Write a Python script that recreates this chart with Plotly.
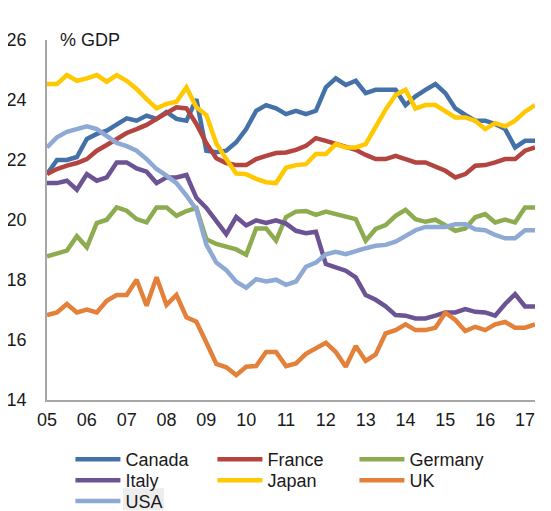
import plotly.graph_objects as go

# Quarterly data 2005Q1 .. 2017Q2 (% of GDP)
quarters = list(range(50))
tick_vals = list(range(0, 49, 4))
tick_text = ["05", "06", "07", "08", "09", "10", "11", "12", "13", "14", "15", "16", "17"]
y_ticks = [14, 16, 18, 20, 22, 24, 26]

canada = [21.53, 22.0, 22.0, 22.1, 22.7, 22.87, 22.98, 23.2, 23.39, 23.31,
          23.48, 23.37, 23.6, 23.37, 23.31, 24.03, 22.31, 22.26, 22.31, 22.59,
          23.03, 23.64, 23.83, 23.72, 23.53, 23.64, 23.53, 23.64, 24.42, 24.72,
          24.5, 24.64, 24.23, 24.34, 24.34, 24.34, 23.83, 24.12, 24.34, 24.53,
          24.23, 23.72, 23.5, 23.31, 23.31, 23.2, 23.03, 22.42, 22.64, 22.64]
france = [21.53, 21.7, 21.81, 21.9, 22.03, 22.31, 22.5, 22.68, 22.9, 23.03,
          23.17, 23.37, 23.56, 23.76, 23.72, 23.2, 22.56, 22.06, 21.9, 21.83,
          21.83, 22.03, 22.14, 22.23, 22.25, 22.34, 22.47, 22.73, 22.64, 22.53,
          22.42, 22.34, 22.17, 22.03, 22.03, 22.14, 22.03, 21.92, 21.92, 21.76,
          21.64, 21.42, 21.53, 21.81, 21.83, 21.92, 22.03, 22.03, 22.31, 22.42]
germany = [18.79, 18.87, 18.98, 19.46, 19.09, 19.9, 20.01, 20.42, 20.31, 20.03,
           19.92, 20.42, 20.42, 20.14, 20.3, 20.4, 19.36, 19.2, 19.1, 19.02,
           18.84, 19.72, 19.72, 19.31, 20.1, 20.28, 20.3, 20.17, 20.28, 20.2,
           20.12, 20.03, 19.31, 19.7, 19.83, 20.14, 20.34, 20.03, 19.94, 20.01,
           19.83, 19.64, 19.72, 20.09, 20.2, 19.92, 20.01, 19.92, 20.42, 20.42]
italy = [21.23, 21.23, 21.31, 21.01, 21.53, 21.31, 21.42, 21.92, 21.92, 21.72,
         21.61, 21.23, 21.42, 21.42, 21.5, 20.74, 20.4, 19.98, 19.53, 20.1,
         19.82, 19.99, 19.9, 19.99, 19.88, 19.64, 19.56, 19.61, 18.53, 18.42,
         18.31, 18.09, 17.5, 17.34, 17.12, 16.83, 16.81, 16.72, 16.72, 16.81,
         16.92, 16.92, 17.03, 16.94, 16.92, 16.81, 17.2, 17.53, 17.12, 17.12]
japan = [24.53, 24.53, 24.83, 24.64, 24.72, 24.83, 24.61, 24.83, 24.64, 24.37,
         24.03, 23.72, 23.87, 23.94, 24.42, 23.76, 23.5, 22.55, 22.03, 21.55,
         21.53, 21.37, 21.26, 21.23, 21.74, 21.83, 21.86, 22.2, 22.2, 22.53,
         22.42, 22.42, 22.53, 23.14, 23.68, 24.17, 24.34, 23.72, 23.83, 23.83,
         23.64, 23.42, 23.42, 23.31, 23.03, 23.23, 23.12, 23.31, 23.61, 23.83]
uk = [16.83, 16.92, 17.2, 16.92, 17.01, 16.92, 17.31, 17.5, 17.5, 18.01,
      17.14, 18.09, 17.17, 17.5, 16.76, 16.61, 15.92, 15.2, 15.09, 14.83,
      15.11, 15.13, 15.6, 15.6, 15.13, 15.22, 15.54, 15.74, 15.91, 15.6,
      15.11, 15.8, 15.3, 15.52, 16.22, 16.33, 16.52, 16.33, 16.33, 16.41,
      16.91, 16.67, 16.3, 16.44, 16.33, 16.52, 16.6, 16.41, 16.41, 16.52]
usa = [22.42, 22.76, 22.94, 23.03, 23.12, 23.03, 22.79, 22.57, 22.46, 22.31,
       22.03, 21.7, 21.48, 21.23, 20.81, 20.35, 19.18, 18.58, 18.33, 17.94,
       17.74, 18.03, 17.95, 18.01, 17.84, 17.95, 18.44, 18.58, 18.86, 18.94,
       18.86, 18.97, 19.06, 19.14, 19.17, 19.28, 19.47, 19.66, 19.77, 19.77,
       19.77, 19.86, 19.86, 19.69, 19.66, 19.5, 19.39, 19.39, 19.66, 19.66]

series = [
    ("Canada", canada, "#4472A8", "legend"),
    ("France", france, "#B4443F", "legend"),
    ("Germany", germany, "#8DAB4F", "legend"),
    ("Italy", italy, "#6C5394", "legend2"),
    ("Japan", japan, "#FFC800", "legend2"),
    ("UK", uk, "#E3803A", "legend2"),
    ("USA", usa, "#8EAAD4", "legend3"),
]

FONT = "Liberation Sans, Arial, sans-serif"
FS = 18

fig = go.Figure()
for name, vals, col, lg in series:
    fig.add_trace(go.Scatter(x=quarters, y=vals, name=name, mode="lines",
                             legend=lg, line=dict(color=col, width=4.5)))

def legend_row(ypaper):
    return dict(orientation="h", x=0.048, xanchor="left", y=ypaper, yanchor="middle",
                xref="paper", yref="paper",
                entrywidth=82, entrywidthmode="pixels", itemwidth=45,
                font=dict(family=FONT, size=FS, color="#1a1a1a"),
                bgcolor="rgba(0,0,0,0)", borderwidth=0)

# the page body adds an 8px offset, so the figure is 8px smaller on each axis
fig.update_layout(
    width=543, height=503,
    margin=dict(l=39, r=16, t=32, b=111, autoexpand=False),
    paper_bgcolor="white", plot_bgcolor="white",
    font=dict(family=FONT, size=FS, color="#1a1a1a"),
    showlegend=True,
    legend=legend_row(-0.1655),
    legend2=legend_row(-0.2239),
    legend3=legend_row(-0.2817),
    xaxis=dict(range=[0, 49], tickmode="array", tickvals=tick_vals, ticktext=tick_text,
               showgrid=False, zeroline=False, showline=True, linecolor="#A6A6A6",
               linewidth=1.5, ticks="", ticklabelstandoff=3),
    yaxis=dict(range=[14, 26], tickmode="array", tickvals=y_ticks,
               showgrid=False, zeroline=False, showline=True, linecolor="#A6A6A6",
               linewidth=1.5, ticks="", ticklabelstandoff=15),
    annotations=[dict(text="% GDP", x=0.023, y=1.0, xref="paper", yref="paper",
                      xanchor="left", yanchor="middle", showarrow=False,
                      font=dict(family=FONT, size=FS, color="#1a1a1a"))],
    shapes=[dict(type="rect", xref="paper", yref="paper", x0=0.1557, x1=0.2398,
                 y0=-0.2448, y1=-0.306, fillcolor="#EDEDED", line=dict(width=0),
                 layer="below")],
)

fig.write_html("out.html")
